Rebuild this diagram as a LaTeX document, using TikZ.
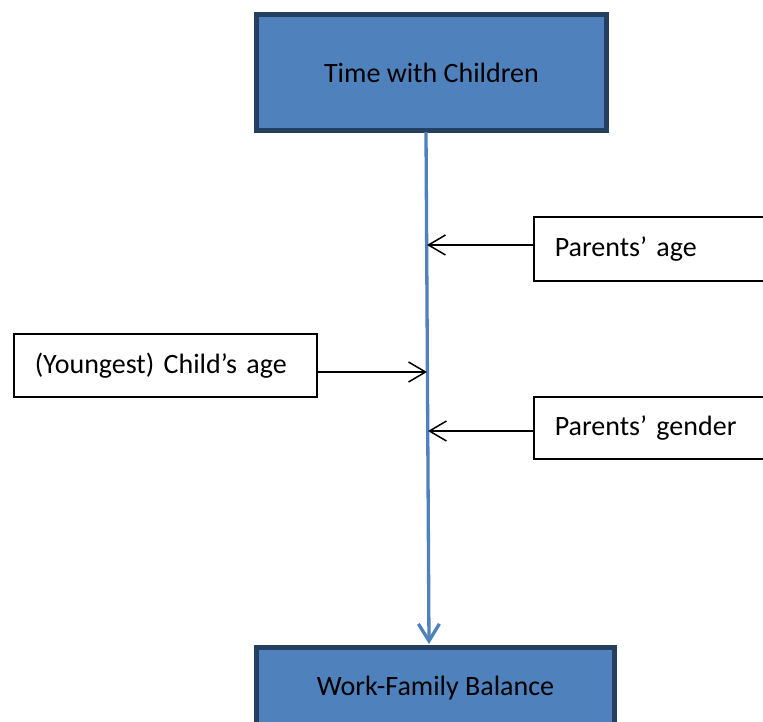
\documentclass[tikz,border=0pt]{standalone}
\usepackage{fontspec}
\setmainfont{Carlito}
\usetikzlibrary{arrows.meta}
\definecolor{boxfill}{HTML}{4F81BD}
\definecolor{boxline}{HTML}{243F60}
\tikzset{
  mainbox/.style={draw=boxline, fill=boxfill, line width=5pt, inner sep=0pt, font=\fontsize{28}{32}\selectfont},
  factor/.style={draw=black, line width=1.5pt, fill=white, anchor=north west, align=left, font=\fontsize{28}{32}\selectfont},
  thinarrow/.style={draw=black, line width=1.5pt, -{Straight Barb[length=17pt,width=20pt,line width=1.5pt]}},
  bluearrow/.style={draw=boxfill, line width=3.3pt, -{Straight Barb[length=17pt,width=21pt,line width=3.3pt]}}
}
\begin{document}
\begin{tikzpicture}[x=1pt,y=-1pt]
\useasboundingbox (0,0) rectangle (763,721);
\clip (0,0) rectangle (763,721);
\fill[white] (0,0) rectangle (763,721);
\node[mainbox, minimum width=350pt, minimum height=116pt] (top) at (431.5,72.5) {Time with Children};
\node[mainbox, minimum width=358pt, minimum height=81pt] (bot) at (435.5,688) {Work-Family Balance};
\node[factor, minimum height=64pt, text width=225pt, inner xsep=21pt, inner ysep=0pt] (page) at (533,216) {\raisebox{-2pt}{Parents’ age}};
\node[factor, minimum height=62pt, text width=225pt, inner xsep=21pt, inner ysep=0pt] (pgender) at (533,396) {\raisebox{-2pt}{Parents’ gender}};
\node[factor, minimum height=63pt, text width=261pt, inner xsep=21pt, inner ysep=0pt] (child) at (13,333) {\raisebox{-1pt}{(Youngest) Child’s age}};
\coordinate (ls) at (426,132);
\coordinate (le) at (429,644);
\draw[bluearrow] (ls) -- (le);
\coordinate (ta) at (427,245);
\coordinate (tg) at (428,431);
\coordinate (tc) at (427,372);
\coordinate (sc) at (316,372);
\draw[thinarrow] (page.west |- ta) -- (ta);
\draw[thinarrow] (pgender.west |- tg) -- (tg);
\draw[thinarrow] (sc) -- (tc);
\end{tikzpicture}
\end{document}
